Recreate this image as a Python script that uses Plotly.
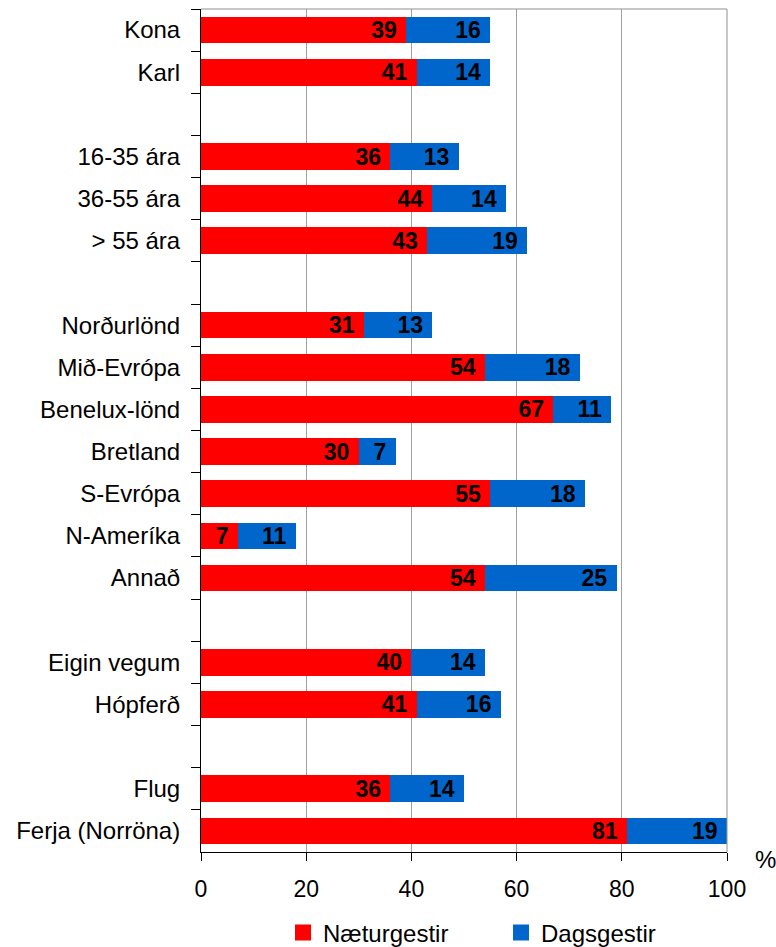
import plotly.graph_objects as go

categories = ["Kona", "Karl", " ", "16-35 ára", "36-55 ára", "> 55 ára", "  ",
              "Norðurlönd", "Mið-Evrópa", "Benelux-lönd", "Bretland", "S-Evrópa",
              "N-Ameríka", "Annað", "   ", "Eigin vegum", "Hópferð", "    ",
              "Flug", "Ferja (Norröna)"]
naetur = [39, 41, None, 36, 44, 43, None, 31, 54, 67, 30, 55, 7, 54, None, 40, 41, None, 36, 81]
dags = [16, 14, None, 13, 14, 19, None, 13, 18, 11, 7, 18, 11, 25, None, 14, 16, None, 14, 19]
series_names = ["Næturgestir", "Dagsgestir"]
colors = ["#FF0000", "#0066CC"]
x_ticks = [0, 20, 40, 60, 80, 100]

W, H = 776, 947
fig = go.Figure()
for name, vals, col in zip(series_names, [naetur, dags], colors):
    fig.add_trace(go.Bar(
        y=categories, x=vals, orientation="h", name=name,
        marker=dict(color=col, line=dict(width=0)),
        text=[("" if v is None else str(v) + "\u00a0") for v in vals],
        textposition="inside", insidetextanchor="end", textangle=0,
        constraintext="none",
        textfont=dict(family="Liberation Sans, Arial", size=23, color="black", weight="bold"),
        showlegend=False, cliponaxis=False,
    ))
# legend proxies
for name, col in zip(series_names, colors):
    fig.add_trace(go.Scatter(
        x=[None], y=[None], mode="markers", name=name,
        marker=dict(symbol="square", size=19, color=col),
    ))

fig.update_layout(
    barmode="stack", bargap=0.366,
    width=W, height=H,
    margin=dict(l=201, r=49, t=9, b=95, autoexpand=False),
    paper_bgcolor="white", plot_bgcolor="white",
    font=dict(family="Liberation Sans, Arial", size=24, color="black"),
    legend=dict(orientation="h", xref="container", yref="container",
                x=283 / W, xanchor="left", y=14 / H, yanchor="middle",
                font=dict(size=24), itemwidth=30, tracegroupgap=0,
                traceorder="normal", entrywidthmode="pixels", entrywidth=173,
                bgcolor="rgba(0,0,0,0)"),
    annotations=[dict(text="%", x=1.0, y=0, xref="paper", yref="paper",
                      xanchor="center", yanchor="middle", xshift=38, yshift=-7,
                      showarrow=False, font=dict(size=24))],
)
fig.update_xaxes(range=[0, 100], tickvals=x_ticks, showgrid=True, gridcolor="#A0A0A0",
                 gridwidth=1, showline=True, linecolor="black", linewidth=1,
                 ticks="outside", ticklen=8, tickcolor="black", zeroline=False,
                 mirror=False, tickfont=dict(size=23), ticklabelstandoff=8,
                 automargin=False)
fig.update_yaxes(categoryorder="array", categoryarray=categories, autorange="reversed",
                 showline=True, linecolor="black", linewidth=1, ticks="outside",
                 tickson="boundaries", ticklen=9, tickcolor="black", showgrid=False,
                 tickfont=dict(size=24), ticklabelstandoff=15, automargin=False)
# top and right gray borders
fig.add_shape(type="line", xref="paper", yref="paper", x0=0, x1=1, y0=1, y1=1,
              line=dict(color="#909090", width=1))
fig.add_shape(type="line", xref="paper", yref="paper", x0=1, x1=1, y0=0, y1=1,
              line=dict(color="#909090", width=1))

fig.write_html("out.html", config={"displayModeBar": False},
               post_script="document.body.style.margin='0';document.body.style.overflow='hidden';")
